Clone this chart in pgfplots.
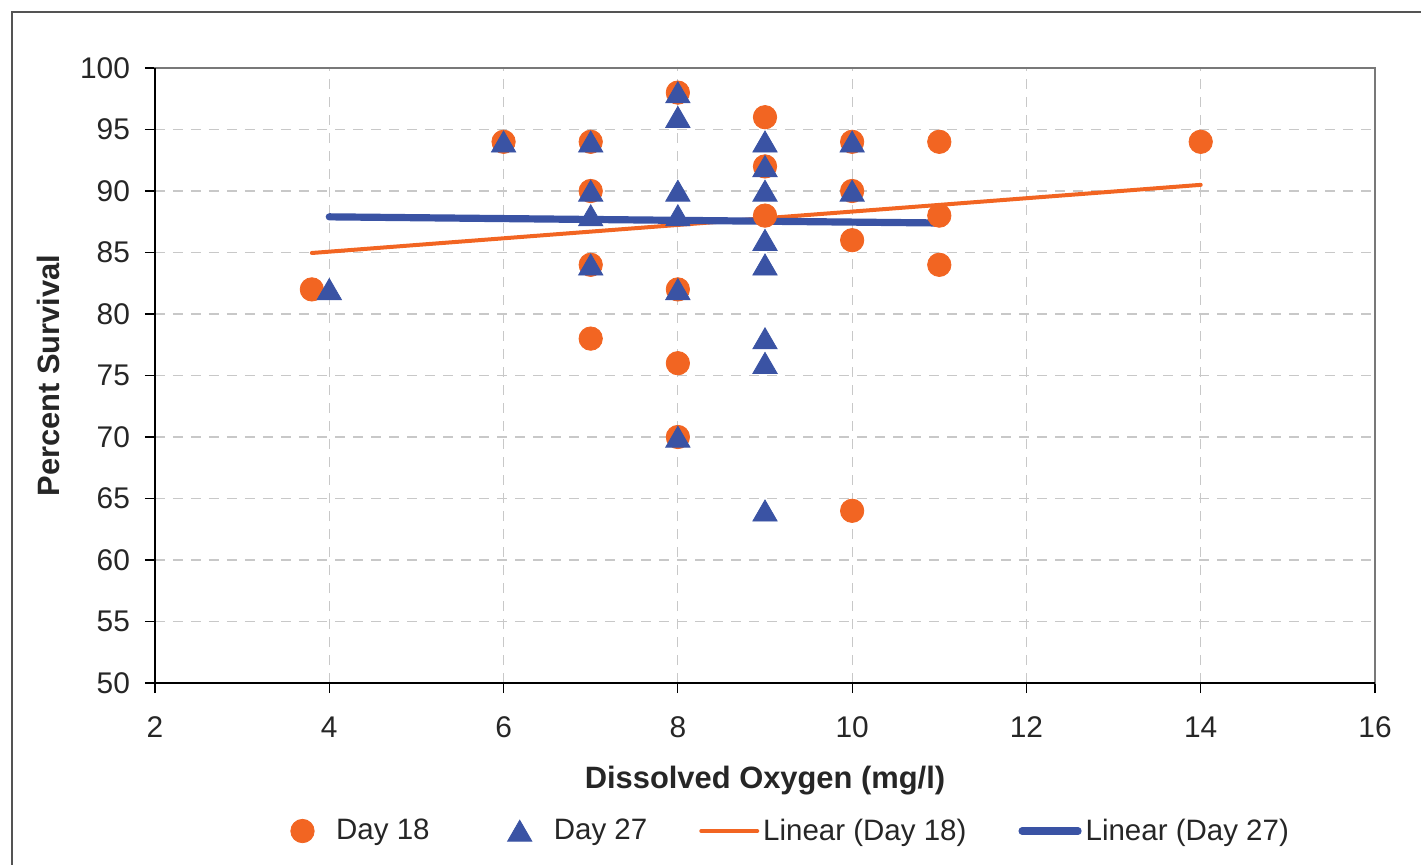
\documentclass[border=0pt]{standalone}
\usepackage{fontspec}
\setmainfont{Liberation Sans}
\usepackage{pgfplots}
\pgfplotsset{compat=1.18}
\definecolor{dorange}{RGB}{242,101,34}
\definecolor{dblue}{RGB}{58,83,164}
\definecolor{gridgray}{RGB}{200,200,200}
\definecolor{boxgray}{RGB}{120,120,120}
\pgfplotsset{mylegline/.style={legend image code/.code={\draw[##1] (0bp,0bp) -- (28bp,0bp);}}}
\begin{document}
\begin{tikzpicture}
\path[use as bounding box] (-77.5bp,-91bp) rectangle (633bp,341.5bp);
\draw[boxgray!70!black, line width=1bp] (-71.5bp,-120bp) -- (-71.5bp,335.5bp) -- (700bp,335.5bp);
\begin{axis}[
  scale only axis,
  width=610bp, height=307.5bp,
  xmin=2, xmax=16, ymin=50, ymax=100,
  xtick={2,4,...,16}, ytick={50,55,...,100},
  xtick pos=bottom, ytick pos=left,
  tick align=outside, major tick length=5bp,
  tick style={black, line width=0.6bp},
  axis line style={draw=boxgray, line width=0.8bp},
  grid=major,
  major grid style={gridgray, dashed, line width=0.6bp, dash pattern=on 5bp off 4bp},
  /pgf/number format/assume math mode=true,
  ticklabel style={font=\fontsize{15}{18}\selectfont, text=black!85},
  yticklabel style={xshift=-4bp},
  xticklabel style={yshift=-8.5bp},
  xlabel={\textbf{Dissolved Oxygen (mg/l)}},
  ylabel={\textbf{Percent Survival}},
  label style={font=\fontsize{15.5}{18}\selectfont, text=black!85},
  xlabel style={at={(0.5,-0.1593)}, anchor=center},
  ylabel style={at={(-0.0877,0.5)}, anchor=center},
  legend columns=4,
  legend style={draw=none, at={(0.522,-0.2407)}, anchor=center,
    font=\fontsize{14.8}{17}\selectfont, text=black!85,
    /tikz/every even column/.append style={column sep=24bp}},
  clip=false,
]
\addplot[dorange, only marks, mark=*, mark size=5.85bp, mark options={draw=dorange, fill=dorange}] coordinates {
(3.8,82) (6,94) (7,94) (7,90) (7,84) (7,78)
(8,98) (8,82) (8,76) (8,70)
(9,96) (9,92) (9,88)
(10,94) (10,90) (10,86) (10,64)
(11,94) (11,88) (11,84) (14,94)
};
\addlegendentry{\hspace{9bp}Day 18\hspace{13bp}\mbox{}}
\addplot[dblue, only marks, mark=triangle*, mark size=7bp, mark options={draw=dblue, fill=dblue, yshift=-1.6bp}] coordinates {
(4,82) (6,94) (7,94) (7,90) (7,88) (7,84)
(8,98) (8,96) (8,90) (8,88) (8,82) (8,70)
(9,94) (9,92) (9,90) (9,86) (9,84) (9,78) (9,76) (9,64)
(10,94) (10,90)
};
\addlegendentry{\hspace{9bp}Day 27}
\addplot[dorange, line width=2bp, line cap=round, mylegline] coordinates {(3.8,84.96) (14,90.5)};
\addlegendentry{Linear (Day 18)}
\addplot[dblue, line width=3.6bp, line cap=round, mylegline] coordinates {(4,87.9) (11,87.4)};
\addlegendentry{Linear (Day 27)}
\draw[black, line width=0.8bp] (rel axis cs:0,1) -- (rel axis cs:0,0) -- (rel axis cs:1,0);
\end{axis}
\end{tikzpicture}
\end{document}
